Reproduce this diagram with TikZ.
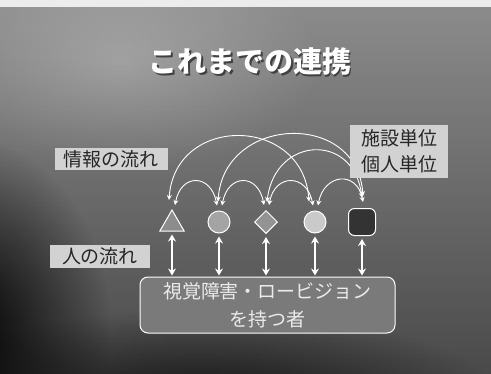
\documentclass[tikz,border=0pt]{standalone}
\usepackage{fontspec}
\newfontfamily\jp{Noto Sans CJK JP}
\usetikzlibrary{arrows.meta,shapes.geometric,fadings}
\definecolor{bgtop}{HTML}{8C8C8C}
\definecolor{bgbot}{HTML}{4A4A4A}
\definecolor{lblfill}{HTML}{D2D2D2}
\definecolor{triC}{HTML}{8C8C8C}
\definecolor{cirA}{HTML}{A4A4A4}
\definecolor{diaC}{HTML}{939393}
\definecolor{cirB}{HTML}{CACACA}
\definecolor{sqC}{HTML}{333333}
\definecolor{boxC}{HTML}{7A7A7A}
\tikzfading[name=softc, inner color=transparent!0, outer color=transparent!100]
\begin{document}
\begin{tikzpicture}[x=1pt,y=1pt,
  shp/.style={draw=white, line width=1pt, inner sep=0pt},
  info/.style={draw=white, line width=0.9pt,
    {Stealth[length=5pt,width=5pt]}-{Stealth[length=5pt,width=5pt]}},
  ppl/.style={draw=white, line width=1.6pt,
    {Stealth[length=7pt,width=8pt]}-{Stealth[length=7pt,width=8pt]}},
  lbl/.style={fill=lblfill, text=black!85, font=\jp\fontsize{19}{26}\selectfont,
    inner xsep=6pt, inner ysep=2pt, align=center},
  ttl/.style={font=\jp\bfseries\fontsize{29}{29}\selectfont}
]
\useasboundingbox (0,0) rectangle (491,-373);
% background
\shade[top color=bgtop, bottom color=bgbot] (0,0) rectangle (491,-373);
\fill[black, path fading=softc, opacity=0.95] (-30,-330) ellipse (140 and 190);
\fill[black, path fading=softc, opacity=0.7] (200,-400) ellipse (300 and 90);
\fill[white, path fading=softc, opacity=0.25] (120,-60) ellipse (200 and 110);
\fill[gray!15] (0,0) rectangle (491,-7);
% title
\node[ttl, text=black!75] at (251.5,-63.5) {これまでの連携};
\node (title) [ttl, text=white] at (250,-62) {これまでの連携};
% shapes
\node (T) [shp, regular polygon, regular polygon sides=3, minimum size=28pt, fill=triC] at (172,-224) {};
\node (C1) [shp, circle, minimum size=22pt, fill=cirA] at (219,-222) {};
\node (D) [shp, diamond, minimum size=23pt, fill=diaC] at (266,-222) {};
\node (C2) [shp, circle, minimum size=22pt, fill=cirB] at (315,-222) {};
\node (S) [shp, rounded corners=6pt, minimum size=27pt, fill=sqC] at (362,-222) {};
% persons box
\node (P) [draw=white, line width=1pt, rounded corners=8pt, fill=boxC,
  minimum width=255pt, minimum height=56pt, align=center, text=white!92!black,
  font=\jp\fontsize{19}{28}\selectfont] at (267.5,-305) {視覚障害・ロービジョン\\を持つ者};
% people flow
\foreach \n in {T,C1,D,C2,S}{
  \draw[ppl] ([yshift=-3pt]\n.south) -- ([yshift=1pt]\n.south |- P.north);
}
% information flow: short arcs
\draw[info] ([xshift=3pt,yshift=4pt]T.north) .. controls +(6,32) and +(-6,32) .. ([xshift=-2pt,yshift=5pt]C1.north);
\draw[info] ([xshift=3pt,yshift=5pt]C1.north) .. controls +(6,32) and +(-6,32) .. ([xshift=-2pt,yshift=5pt]D.north);
\draw[info] ([xshift=3pt,yshift=5pt]D.north) .. controls +(6,32) and +(-6,32) .. ([xshift=-2pt,yshift=5pt]C2.north);
\draw[info] ([xshift=3pt,yshift=5pt]C2.north) .. controls +(6,32) and +(-6,32) .. ([xshift=1pt,yshift=6pt]S.north);
% medium arc
\draw[info] ([xshift=1pt,yshift=8pt]D.north) .. controls +(8,66) and +(-8,66) .. ([xshift=0pt,yshift=10pt]S.north);
% long arcs
\draw[info] ([xshift=-3pt,yshift=9pt]T.north) .. controls +(6,86) and +(-6,86) .. ([xshift=-6pt,yshift=9pt]C2.north);
\draw[info] ([xshift=-1pt,yshift=9pt]C1.north) .. controls +(6,86) and +(-6,86) .. ([xshift=1pt,yshift=12pt]S.north);
% labels
\node (L1) [lbl, minimum width=113pt, minimum height=22pt] at (111,-159) {情報の流れ};
\node (L2) [lbl, minimum width=100pt, minimum height=23pt] at (100,-256) {人の流れ};
\node (L3) [lbl, minimum width=98pt, minimum height=53pt] at (399,-151) {施設単位\\個人単位};
\end{tikzpicture}
\end{document}
